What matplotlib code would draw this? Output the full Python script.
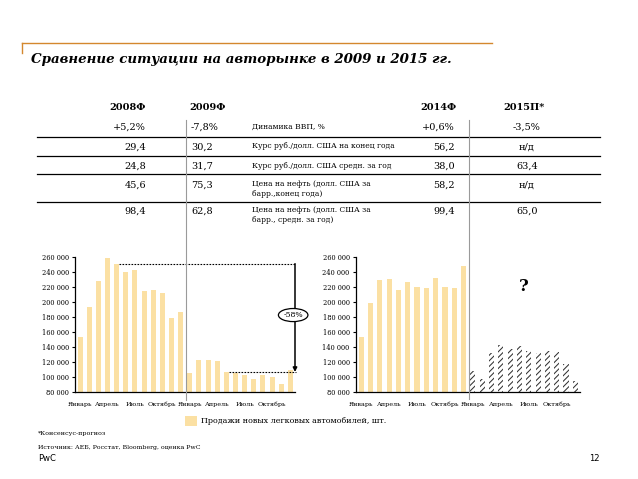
import matplotlib
matplotlib.use("Agg")
import matplotlib.pyplot as plt
from matplotlib.lines import Line2D
from matplotlib.patches import Rectangle
import numpy as np

# ---------------- data ----------------
title = "Сравнение ситуации на авторынке в 2009 и 2015 гг."
col_headers = ["2008Ф", "2009Ф", "2014Ф", "2015П*"]
row_labels = ["Динамика ВВП, %",
              "Курс руб./долл. США на конец года",
              "Курс руб./долл. США средн. за год",
              "Цена на нефть (долл. США за\nбарр.,конец года)",
              "Цена на нефть (долл. США за\nбарр., средн. за год)"]
col_2008 = ["+5,2%", "29,4", "24,8", "45,6", "98,4"]
col_2009 = ["-7,8%", "30,2", "31,7", "75,3", "62,8"]
col_2014 = ["+0,6%", "56,2", "38,0", "58,2", "99,4"]
col_2015 = ["-3,5%", "н/д", "63,4", "н/д", "65,0"]

sales_2008 = [154000, 194000, 228000, 259000, 251500, 241000, 243000, 215000, 217000, 213000, 179000, 187500]
sales_2009 = [106000, 122500, 122500, 121500, 107100, 106000, 102500, 97500, 103500, 101000, 91500, 110000]
sales_2014 = [153500, 198500, 230000, 231000, 216000, 227000, 221000, 219500, 233000, 221000, 219500, 249000]
sales_2015 = [108500, 98000, 133000, 143500, 138000, 141500, 135000, 132500, 135500, 134000, 117500, 94500]

xtick_labels = ["Январь", "Апрель", "Июль", "Октябрь", "Январь", "Апрель", "Июль", "Октябрь"]
ytick_values = [80000, 100000, 120000, 140000, 160000, 180000, 200000, 220000, 240000, 260000]
legend_label = "Продажи новых легковых автомобилей, шт."
drop_label = "-58%"
footnote = "*Консенсус-прогноз"
source = "Источник: АЕБ, Росстат, Bloomberg, оценка PwC"

# ---------------- styles ----------------
W, H = 638, 479
BAR = "#FBE0A3"
ORANGE = "#D4882E"
GREY = "#9A9A9A"
SERIF = "DejaVu Serif"
plt.rcParams["hatch.linewidth"] = 0.75

fig = plt.figure(figsize=(W / 100, H / 100), dpi=100)
fig.patch.set_facecolor("white")

def fx(x):
    return x / W

def fy(y):
    return 1 - y / H

def fline(x0, y0, x1, y1, **kw):
    fig.add_artist(Line2D([fx(x0), fx(x1)], [fy(y0), fy(y1)], transform=fig.transFigure, **kw))

# title area
fline(22, 42.7, 492, 42.7, color=ORANGE, lw=1.0)
fline(22, 42.7, 22, 53, color=ORANGE, lw=1.0)
fig.text(fx(31), fy(60), title, fontsize=9.6, fontweight="bold", fontstyle="italic",
         family=SERIF, va="center", ha="left")

# table
header_x = [128, 208, 438, 524]
for hx, h in zip(header_x, col_headers):
    fig.text(fx(hx), fy(107.5), h, fontsize=7, fontweight="bold", family=SERIF, ha="center", va="center")

row_y = [127.5, 147.5, 166, 185, 211.5]
label_y = [127, 146.5, 165.5, 189, 215]
for i in range(5):
    fig.text(fx(146), fy(row_y[i]), col_2008[i], fontsize=7, family=SERIF, ha="right", va="center")
    fig.text(fx(191), fy(row_y[i]), col_2009[i], fontsize=7, family=SERIF, ha="left", va="center")
    fig.text(fx(252), fy(label_y[i]), row_labels[i], fontsize=5.5, family=SERIF, ha="left",
             va="center", linespacing=1.45)
    fig.text(fx(455), fy(row_y[i]), col_2014[i], fontsize=7, family=SERIF, ha="right", va="center")
    fig.text(fx(527), fy(row_y[i]), col_2015[i], fontsize=7, family=SERIF, ha="center", va="center")

for ly in [136.7, 155.7, 174.3, 202.3]:
    fline(37, ly, 600, ly, color="black", lw=0.9)

# vertical separators
fline(185.5, 120, 185.5, 400, color=GREY, lw=0.8)
fline(469, 120, 469, 399, color=GREY, lw=0.8)

# ---------------- charts ----------------
ax_bottom, ax_top = 392.3, 257.3

def make_ax(left, right):
    ax = fig.add_axes([fx(left), fy(ax_bottom), (right - left) / W, (ax_bottom - ax_top) / H])
    ax.set_facecolor("none")
    ax.set_xlim(-0.55, 23.5)
    ax.set_ylim(80000, 260000)
    for s in ["top", "right"]:
        ax.spines[s].set_visible(False)
    ax.spines["left"].set_linewidth(0.9)
    ax.spines["bottom"].set_linewidth(0.9)
    ax.set_yticks(ytick_values)
    ax.set_yticklabels([f"{v:,}".replace(",", " ") for v in ytick_values], fontsize=4.8, family=SERIF)
    ax.tick_params(axis="y", length=2.5, width=0.8, pad=2)
    ax.set_xticks([0, 3, 6, 9, 12, 15, 18, 21])
    ax.set_xticklabels(xtick_labels, fontsize=4.6, family=SERIF, va="baseline")
    ax.tick_params(axis="x", length=0, pad=10)
    return ax

x1 = np.arange(12)
x2 = np.arange(12, 24)

axL = make_ax(75, 295)
axL.bar(x1, sales_2008, width=0.55, color=BAR, linewidth=0)
axL.bar(x2, sales_2009, width=0.55, color=BAR, linewidth=0)

top_val = sales_2008[4]
low_val = sales_2009[4]
axL.plot([4.25, 23.65], [top_val, top_val], color="black", lw=0.8, ls=(0, (1.5, 1.2)), clip_on=False)
axL.plot([16.25, 23.65], [low_val, low_val], color="black", lw=0.8, ls=(0, (1.5, 1.2)), clip_on=False)
axL.annotate("", xy=(23.5, low_val), xytext=(23.5, top_val),
             arrowprops=dict(arrowstyle="-|>", lw=1.1, color="black", mutation_scale=6,
                             shrinkA=0, shrinkB=0), annotation_clip=False)
axL.text(23.3, 183000, drop_label, fontsize=5.6, family=SERIF, ha="center", va="center",
         bbox=dict(boxstyle="ellipse,pad=0.08", fc="white", ec="black", lw=0.9), clip_on=False)

axR = make_ax(356, 580)
axR.bar(x1, sales_2014, width=0.55, color=BAR, linewidth=0)
axR.bar(x2, sales_2015, width=0.55, color="white", edgecolor="#333333", hatch="//////", linewidth=0)
axR.text(17.5, 221000, "?", fontsize=12, fontweight="bold", family=SERIF, ha="center", va="center")

# legend
fig.add_artist(Rectangle((fx(185), fy(426)), 12 / W, 10 / H, transform=fig.transFigure,
                         facecolor=BAR, edgecolor="none"))
fig.text(fx(201), fy(421), legend_label, fontsize=5.8, family=SERIF, ha="left", va="center")

# footer
fig.text(fx(38), fy(434), footnote, fontsize=4.6, family=SERIF, ha="left", va="center")
fig.text(fx(38), fy(447), source, fontsize=4.5, family=SERIF, ha="left", va="center")
fig.text(fx(38), fy(458.5), "PwC", fontsize=6, family="DejaVu Sans", ha="left", va="center")
fig.text(fx(600), fy(458.5), "12", fontsize=6, family="DejaVu Sans", ha="right", va="center")

fig.savefig("out.png", dpi=100, facecolor="white")
